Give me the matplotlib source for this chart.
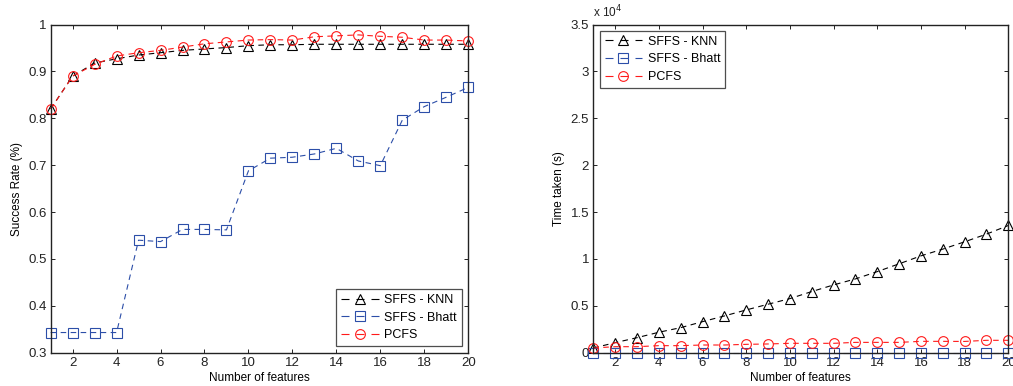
import matplotlib
matplotlib.use("Agg")
import matplotlib.pyplot as plt
from matplotlib.lines import Line2D
import numpy as np

plt.rcParams['font.family'] = ['Liberation Sans', 'DejaVu Sans']

features = list(range(1, 21))

# Success rate
knn_rate = [0.820, 0.890, 0.918, 0.927, 0.935, 0.940, 0.945, 0.948, 0.951, 0.955,
            0.957, 0.957, 0.958, 0.958, 0.958, 0.958, 0.958, 0.958, 0.958, 0.958]
bhatt_rate = [0.343, 0.343, 0.343, 0.343, 0.540, 0.537, 0.563, 0.563, 0.562, 0.688,
              0.715, 0.717, 0.724, 0.736, 0.709, 0.699, 0.796, 0.825, 0.845, 0.866]
pcfs_rate = [0.820, 0.890, 0.915, 0.933, 0.940, 0.945, 0.952, 0.959, 0.963, 0.967,
             0.968, 0.967, 0.974, 0.976, 0.978, 0.975, 0.973, 0.967, 0.967, 0.965]

# Time taken (seconds)
knn_time = [500, 1070, 1600, 2180, 2670, 3310, 3920, 4560, 5170, 5770,
            6520, 7230, 7870, 8650, 9480, 10330, 11050, 11830, 12650, 13570]
bhatt_time = [20] * 20
pcfs_time = [500, 640, 640, 750, 750, 820, 820, 890, 930, 1000,
             1000, 1000, 1100, 1100, 1100, 1210, 1210, 1200, 1320, 1320]

legend_labels = ['SFFS - KNN', 'SFFS - Bhatt', 'PCFS']
colors = ['#000000', '#2c4ea8', '#ff1a1a']
markers = ['^', 's', 'o']

fig = plt.figure(figsize=(10.13, 3.86), dpi=100)
ax1 = fig.add_axes([0.050, 0.0863, 0.4122, 0.850])
ax2 = fig.add_axes([0.5857, 0.0863, 0.4097, 0.850])

style = dict(linestyle=(0, (5, 4)), linewidth=0.8, markersize=7,
             markerfacecolor='none', markeredgewidth=0.8, clip_on=False)

for ys, c, m in zip([knn_rate, bhatt_rate, pcfs_rate], colors, markers):
    ax1.plot(features, ys, color=c, marker=m, **style)

scale = 1e4
for ys, c, m in zip([knn_time, bhatt_time, pcfs_time], colors, markers):
    ax2.plot(features, np.array(ys) / scale, color=c, marker=m, **style)

ax1.set_xlim(1, 20)
ax1.set_ylim(0.3, 1.0)
ax1.set_xticks(range(2, 21, 2))
ax1.set_yticks(np.arange(0.3, 1.01, 0.1))
ax1.set_yticklabels(['0.3', '0.4', '0.5', '0.6', '0.7', '0.8', '0.9', '1'])
ax1.set_xlabel('Number of features', fontsize=8.5, labelpad=2.5)
ax1.set_ylabel('Success Rate (%)', fontsize=8.5, labelpad=4)

ax2.set_xlim(1, 20)
ax2.set_ylim(0, 3.5)
ax2.set_xticks(range(2, 21, 2))
ax2.set_yticks(np.arange(0, 3.51, 0.5))
ax2.set_yticklabels(['0', '0.5', '1', '1.5', '2', '2.5', '3', '3.5'])
ax2.set_xlabel('Number of features', fontsize=8.5, labelpad=2.5)
ax2.set_ylabel('Time taken (s)', fontsize=8.5, labelpad=4)
ax2.text(0.0, 1.012, 'x 10$^4$', transform=ax2.transAxes, fontsize=8.5,
         ha='left', va='bottom', color='#222222')

for ax in (ax1, ax2):
    ax.tick_params(direction='in', top=True, right=True, labelsize=9.5,
                   length=3, width=0.7, pad=3, colors='#222222')
    for sp in ax.spines.values():
        sp.set_linewidth(1.0)
        sp.set_color('#222222')

handles = [Line2D([], [], color=c, marker=m, markersize=7, markerfacecolor='none',
                  markeredgewidth=0.8, linewidth=0.8, linestyle=(0, (7.2, 6.3)))
           for c, m in zip(colors, markers)]

leg_kw = dict(fontsize=9, frameon=True, fancybox=False, edgecolor='#222222',
              handlelength=3.0, handletextpad=0.45, borderpad=0.4, labelspacing=0.45,
              borderaxespad=0.5)
l1 = ax1.legend(handles, legend_labels, loc='lower right', **leg_kw)
l2 = ax2.legend(handles, legend_labels, loc='upper left', **leg_kw)
for l in (l1, l2):
    l.get_frame().set_linewidth(0.9)

fig.savefig('out.png', dpi=100)
